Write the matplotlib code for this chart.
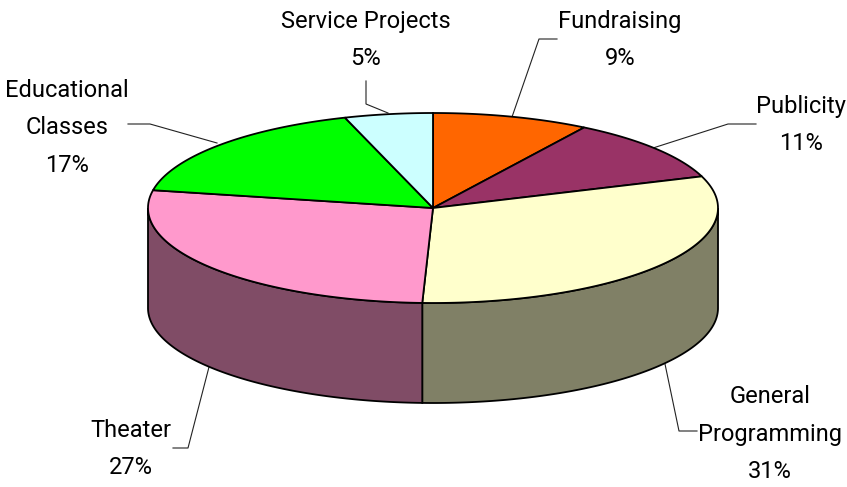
"""Flat-shaded 3D pie of programme shares, drawn on a pixel-sized axes."""
import numpy as np
import matplotlib
matplotlib.use("Agg")
import matplotlib.pyplot as plt
from matplotlib.patches import Polygon

labels = ["Fundraising", "Publicity", "General\nProgramming", "Theater",
          "Educational\nClasses", "Service Projects"]
percents = [9, 11, 31, 27, 17, 5]
# unrounded shares as measured off the slice boundaries
shares = [8.9, 10.7, 31.0, 27.4, 17.0, 5.0]
top_colors = ["#FF6600", "#993366", "#FFFFCC", "#FF99CC", "#00FF00", "#CCFFFF"]
side_colors = ["#803300", "#4C1933", "#808066", "#804C66", "#008000", "#668080"]

# centre + leader positions in pixels
CX, CY, RX, RY, DEPTH = 433, 208, 285, 95, 100
label_xy = [(620, 40), (801, 125), (770, 434), (131, 449), (67, 128), (366, 40)]
leaders = [
    [(512, 117), (539, 39), (557, 39)],
    [(653, 148), (728, 124), (756, 124)],
    [(665, 364), (679, 431), (697, 431)],
    [(209, 367), (188, 448), (173, 448)],
    [(217, 143), (150, 124), (128, 124)],
    [(388, 113), (366, 104), (366, 81)],
]


def rim(t0, t1, n=120):
    t = np.radians(np.linspace(t0, t1, n))
    return CX + RX * np.sin(t), CY - RY * np.cos(t)


plt.rcParams["font.family"] = ["Roboto", "Liberation Sans"]
fig = plt.figure(figsize=(8.47, 4.87), dpi=100)
ax = fig.add_axes([0, 0, 1, 1])
ax.set_xlim(0, 847)
ax.set_ylim(487, 0)
ax.axis("off")

edges = np.concatenate([[0], np.cumsum(shares)]) / sum(shares) * 360

# side walls first, only the front half (90..270 deg) shows
for i in range(len(shares)):
    t0, t1 = max(edges[i], 90), min(edges[i + 1], 270)
    if t1 <= t0:
        continue
    x, y = rim(t0, t1)
    pts = np.r_[np.c_[x, y], np.c_[x[::-1], y[::-1] + DEPTH]]
    ax.add_patch(Polygon(pts, fc=side_colors[i], ec="black", lw=1.3, zorder=2))

for i in range(len(shares)):
    x, y = rim(edges[i], edges[i + 1])
    pts = np.r_[[(CX, CY)], np.c_[x, y]]
    ax.add_patch(Polygon(pts, fc=top_colors[i], ec="black", lw=1.3, zorder=3))

for i, name in enumerate(labels):
    ax.plot(*zip(*leaders[i]), color="#222222", lw=0.8, zorder=1)
    ax.text(*label_xy[i], f"{name}\n{percents[i]}%", ha="center", va="center",
            fontsize=17, linespacing=1.82, color="black")

fig.savefig("out.png", dpi=100)
